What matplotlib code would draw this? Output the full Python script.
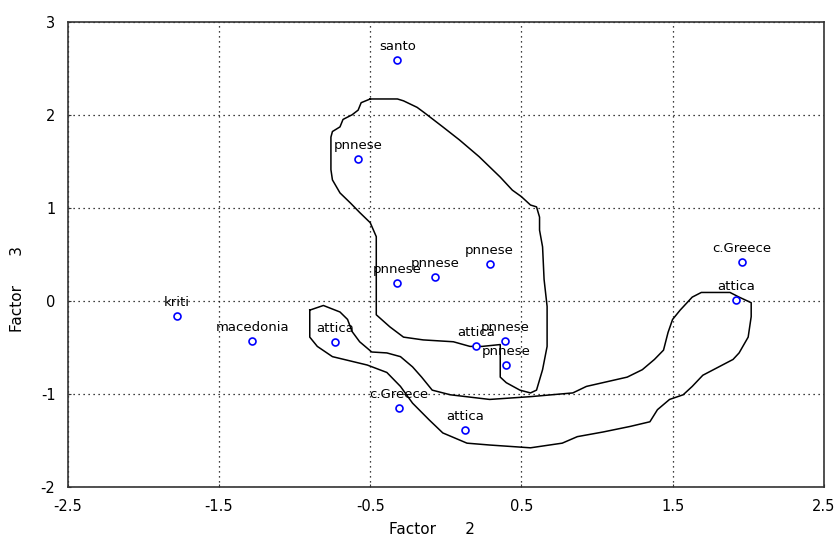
import numpy as np
import matplotlib
matplotlib.use("Agg")
from matplotlib import pyplot as plt

# factor scores and their region labels
labels = ["santo", "pnnese", "pnnese", "pnnese", "pnnese", "c.Greece", "attica",
          "kriti", "macedonia", "attica", "attica", "pnnese", "pnnese",
          "c.Greece", "attica"]
factor2 = [-0.32, -0.58, -0.32, -0.07, 0.29, 1.96, 1.92,
           -1.78, -1.28, -0.73, 0.20, 0.39, 0.40, -0.31, 0.13]
factor3 = [2.59, 1.53, 0.19, 0.26, 0.40, 0.42, 0.01,
           -0.16, -0.43, -0.44, -0.49, -0.43, -0.69, -1.15, -1.39]

# hand drawn outline 1 (upper group)
outline1_x = [-0.50, -0.32, -0.28, -0.19, -0.14, -0.02, 0.09, 0.22, 0.36, 0.44,
              0.50, 0.56, 0.60, 0.62, 0.62, 0.64, 0.65, 0.67, 0.67, 0.64,
              0.60, 0.56, 0.49, 0.40, 0.36, 0.36, 0.36, 0.24, 0.16, 0.05,
              -0.15, -0.28, -0.37, -0.46, -0.46, -0.46, -0.50, -0.57, -0.63, -0.70,
              -0.75, -0.76, -0.76, -0.75, -0.70, -0.68, -0.62, -0.58, -0.56, -0.50]
outline1_y = [2.17, 2.17, 2.15, 2.08, 2.02, 1.87, 1.73, 1.55, 1.33, 1.19,
              1.12, 1.03, 1.01, 0.90, 0.76, 0.58, 0.23, -0.06, -0.49, -0.74,
              -0.96, -0.99, -0.96, -0.88, -0.82, -0.53, -0.47, -0.49, -0.49, -0.44,
              -0.42, -0.39, -0.28, -0.15, 0.12, 0.69, 0.84, 0.95, 1.05, 1.16,
              1.30, 1.41, 1.76, 1.82, 1.87, 1.95, 2.00, 2.05, 2.13, 2.17]

# hand drawn outline 2 (lower group)
outline2_x = [-0.90, -0.81, -0.70, -0.65, -0.62, -0.57, -0.49, -0.39, -0.30, -0.22,
              -0.16, -0.09, 0.03, 0.29, 0.56, 0.84, 0.93, 1.20, 1.30, 1.38,
              1.44, 1.47, 1.50, 1.55, 1.63, 1.69, 1.88, 1.94, 2.02, 2.02,
              2.00, 1.94, 1.90, 1.70, 1.63, 1.57, 1.48, 1.40, 1.35, 1.22,
              1.04, 0.87, 0.77, 0.56, 0.29, 0.14, -0.02, -0.11, -0.22, -0.30,
              -0.39, -0.52, -0.75, -0.85, -0.90, -0.90, -0.90]
outline2_y = [-0.10, -0.05, -0.12, -0.20, -0.33, -0.44, -0.55, -0.56, -0.60, -0.71,
              -0.82, -0.96, -1.01, -1.06, -1.03, -0.99, -0.92, -0.82, -0.74, -0.63,
              -0.53, -0.34, -0.20, -0.10, 0.04, 0.09, 0.09, 0.04, -0.02, -0.17,
              -0.39, -0.56, -0.63, -0.80, -0.92, -1.01, -1.06, -1.17, -1.30, -1.35,
              -1.41, -1.46, -1.53, -1.58, -1.55, -1.53, -1.42, -1.28, -1.10, -0.92,
              -0.77, -0.69, -0.60, -0.49, -0.39, -0.13, -0.10]

xticks = [-2.5, -1.5, -0.5, 0.5, 1.5, 2.5]
yticks = [-2, -1, 0, 1, 2, 3]

plt.rcParams['font.family'] = ['DejaVu Sans']

fig = plt.figure(figsize=(8.38, 5.44), dpi=100)
ax = fig.add_axes([0.081, 0.105, 0.902, 0.855])

# outlines
ax.plot(outline1_x, outline1_y, color='black', linewidth=1.1)
ax.plot(outline2_x, outline2_y, color='black', linewidth=1.1)

# points
ax.plot(factor2, factor3, linestyle='none', marker='o', markersize=5,
        markerfacecolor='white', markeredgecolor='#0000ff', markeredgewidth=1.2,
        zorder=3)

for lab, x, y in zip(labels, factor2, factor3):
    ax.annotate(lab, (x, y), xytext=(0, 5), textcoords='offset points',
                ha='center', va='bottom', fontsize=9.5, color='black')

ax.set_xlim(-2.5, 2.5)
ax.set_ylim(-2, 3)
ax.set_xticks(xticks)
ax.set_yticks(yticks)
ax.set_xticklabels(["-2.5", "-1.5", "-0.5", "0.5", "1.5", "2.5"])
ax.set_yticklabels(["-2", "-1", "0", "1", "2", "3"])
ax.tick_params(direction='in', length=2, labelsize=10.5, pad=9, color='#333333')

ax.grid(True, color='black', linestyle=(0, (1, 3)), linewidth=0.9)

for s in ax.spines.values():
    s.set_color('#333333')
    s.set_linewidth(1.2)

# axis titles placed like the original
fig.text(0.515, 0.013, "Factor      2", fontsize=11, ha='center', va='bottom')
fig.text(0.021, 0.468, "Factor      3", fontsize=11, ha='center', va='center',
         rotation=90)

plt.savefig("out.png", dpi=100)
